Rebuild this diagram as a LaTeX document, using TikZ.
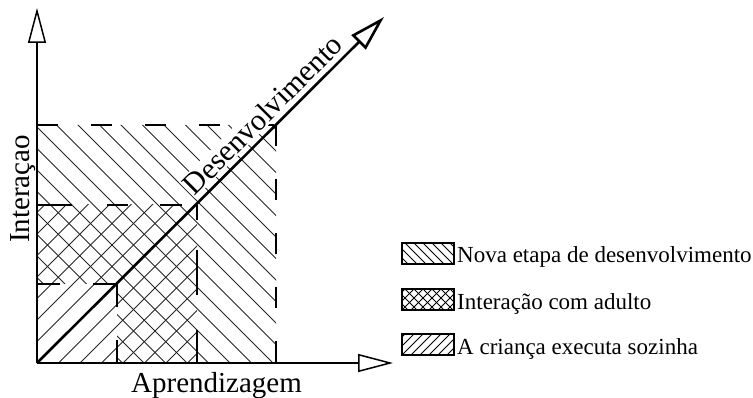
\documentclass[tikz,border=0pt]{standalone}
\usepackage{fontspec}
\setmainfont{Liberation Serif}
\usetikzlibrary{arrows.meta}
\begin{document}
\begin{tikzpicture}[x=1pt,y=-1pt,
  axis/.style={line width=1.5pt,-{Triangle[open,length=35pt,width=18pt]}},
  devarrow/.style={line width=2.6pt,-{Triangle[open,length=36pt,width=20pt]}},
  hatch/.style={line width=0.8pt,black!85},
  lhatch/.style={line width=0.8pt,black},
  border/.style={line width=1.3pt,dash pattern=on 21pt off 33pt},
  lbox/.style={line width=2pt},
  axlabel/.style={font=\fontsize{29}{29}\selectfont,inner sep=0pt},
  legtext/.style={font=\fontsize{23}{23}\selectfont,inner sep=0pt,anchor=base west}]
\useasboundingbox (0,0) rectangle (753,398);

% key points of the staircase
\coordinate (O) at (37,363);
\coordinate (Ytip) at (37,8);
\coordinate (Xtip) at (393,363);
\coordinate (Dtip) at (384,17);

% "\" hatching: large square without the small one
\begin{scope}
  \clip (37,125) -- (276,125) -- (276,363) -- (117,363) -- (117,284) -- (37,284) -- cycle;
  \foreach \hc in {-168,-146.5,...,345} \draw[hatch] (0,\hc) -- ++(420,420);
\end{scope}
% "/" hatching: medium square
\begin{scope}
  \clip (37,205) rectangle (197,363);
  \foreach \hc in {228,249.5,...,575} \draw[hatch] (0,\hc) -- ++(420,-420);
\end{scope}

% dashed borders of the three zones
\draw[border] (37,125) -- (276,125);
\draw[border] (276,125) -- (276,363);
\draw[line width=1.3pt,dash pattern=on 35pt off 35pt on 21pt off 32pt on 22pt off 60pt] (37,205) -- (197,205);
\draw[line width=1.3pt,dash pattern=on 15pt off 30pt on 45pt off 35pt on 40pt off 60pt] (197,205) -- (197,363);
\draw[line width=1.3pt,dash pattern=on 23pt off 33pt on 30pt off 20pt] (37,284) -- (117,284);
\draw[line width=1.3pt,dash pattern=on 23pt off 33pt on 30pt off 20pt] (117,284) -- (117,363);

% axes
\draw[axis] (O) -- (Ytip);
\draw[axis] (O) -- (Xtip);

% development arrow and its label
\node[rotate=45,anchor=base west,fill=white,inner sep=1pt,font=\fontsize{30}{30}\selectfont] (dev) at (194,197.5) {Desenvolvimento};
\draw[devarrow] (O) -- (Dtip);

% axis labels
\node[axlabel,anchor=base west] (xlab) at (131,392) {Aprendizagem};
\node[axlabel,anchor=base west,rotate=90] (ylab) at (29,243) {Interaçao};

% legend swatches: lines are drawn from x=380 across each box
\begin{scope}
  \clip (402,243) rectangle (454,264);
  \foreach \hc in {-216,-207,...,-130} \draw[lhatch] (380,380+\hc) -- ++(100,100);
\end{scope}
\draw[lbox] (402,243) rectangle (454,264);
\node[legtext] (l1) at (457,263) {Nova etapa de desenvolvimento};

\begin{scope}
  \clip (402,289) rectangle (454,310);
  \foreach \hc in {-170,-161,...,-84} \draw[lhatch] (380,380+\hc) -- ++(100,100);
  \foreach \hc in {685,694,...,770} \draw[lhatch] (380,\hc-380) -- ++(100,-100);
\end{scope}
\draw[lbox] (402,289) rectangle (454,310);
\node[legtext] (l2) at (457,309) {Interação com adulto};

\begin{scope}
  \clip (402,334) rectangle (454,355);
  \foreach \hc in {730,739,...,815} \draw[lhatch] (380,\hc-380) -- ++(100,-100);
\end{scope}
\draw[lbox] (402,334) rectangle (454,355);
\node[legtext] (l3) at (457,354) {A criança executa sozinha};
\end{tikzpicture}
\end{document}
